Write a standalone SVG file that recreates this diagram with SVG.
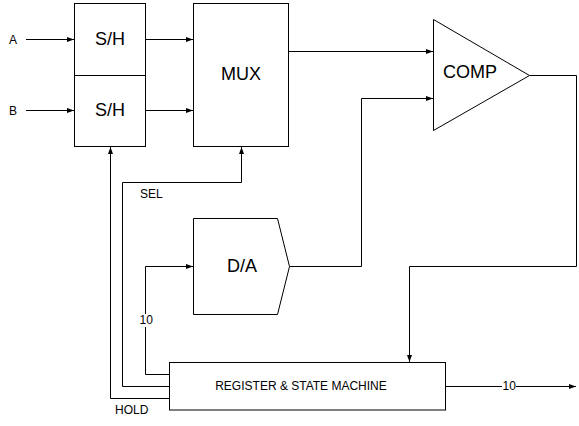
<svg xmlns="http://www.w3.org/2000/svg" width="579" height="426" viewBox="0 0 579 426">
<style>
.shape{fill:#fff;stroke:#000;stroke-width:1}
.wire{fill:none;stroke:#000;stroke-width:1}
.big{font-family:"Liberation Sans",Arial,sans-serif;font-size:18px;fill:#000;text-anchor:middle}
.small{font-family:"Liberation Sans",Arial,sans-serif;font-size:12px;fill:#000}
</style>
<defs>
<marker id="arr" markerUnits="userSpaceOnUse" viewBox="0 0 7 5" refX="7" refY="2.5" markerWidth="7" markerHeight="5" orient="auto">
<path d="M0,0 L7,2.5 L0,5 z" fill="#000"/>
</marker>
</defs>
<rect width="579" height="426" fill="#fff"/>
<g id="connectors">
<path class="wire" d="M26,39.5 H74" marker-end="url(#arr)"/>
<path class="wire" d="M26,110.5 H74" marker-end="url(#arr)"/>
<path class="wire" d="M145.5,39.5 H193" marker-end="url(#arr)"/>
<path class="wire" d="M145.5,110.5 H193" marker-end="url(#arr)"/>
<path class="wire" d="M289,51.5 H433" marker-end="url(#arr)"/>
<path class="wire" d="M289.5,266.5 H361.5 V98.5 H433" marker-end="url(#arr)"/>
<path class="wire" d="M529.5,75.5 H576.5 V266.5 H409.5 V362" marker-end="url(#arr)"/>
<path class="wire" d="M445.5,386.5 H502"/>
<path class="wire" d="M516,386.5 H576" marker-end="url(#arr)"/>
<path class="wire" d="M169.5,374.5 H145.5 V327"/>
<path class="wire" d="M145.5,314 V266.5 H193" marker-end="url(#arr)"/>
<path class="wire" d="M169.5,386.5 H122.5 V182.5 H241.5 V147" marker-end="url(#arr)"/>
<path class="wire" d="M169.5,398.5 H110.5 V147" marker-end="url(#arr)"/>
<text class="small" x="9" y="43.5">A</text>
<text class="small" x="9" y="115">B</text>
<text class="small" x="140" y="197.5">SEL</text>
<text class="small" x="115" y="413.5">HOLD</text>
<text class="small" x="139.5" y="324">10</text>
<text class="small" x="502.5" y="390">10</text>
</g>
<g id="sh-a">
<rect class="shape" x="74.5" y="3.5" width="71" height="72"/>
<text class="big" x="110" y="44.5">S/H</text>
</g>
<g id="sh-b">
<rect class="shape" x="74.5" y="75.5" width="71" height="71"/>
<text class="big" x="110" y="116">S/H</text>
</g>
<g id="mux">
<rect class="shape" x="193.5" y="3.5" width="95" height="143"/>
<text class="big" x="241" y="80">MUX</text>
</g>
<g id="comp">
<polygon class="shape" points="433.5,19.5 433.5,130.5 529.5,75.5"/>
<text class="big" x="470" y="77.5">COMP</text>
</g>
<g id="da">
<polygon class="shape" points="193.5,218.5 277.5,218.5 289.5,266.5 277.5,314.5 193.5,314.5"/>
<text class="big" x="242" y="272">D/A</text>
</g>
<g id="register">
<rect class="shape" x="169.5" y="362.5" width="276" height="47.5"/>
<text class="small" x="301" y="390" text-anchor="middle" font-size="12.3">REGISTER &amp; STATE MACHINE</text>
</g>
</svg>
